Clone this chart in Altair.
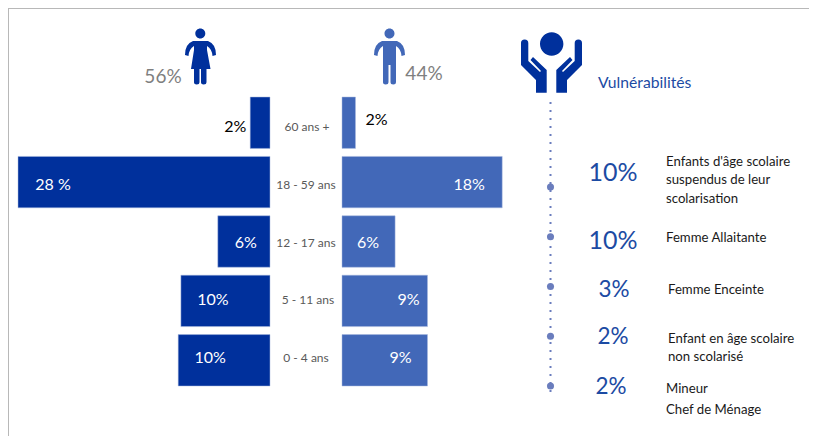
import re
import altair as alt
import pandas as pd

# ---- data ----
ages = ["60 ans +", "18 - 59 ans", "12 - 17 ans", "5 - 11 ans", "0 - 4 ans"]
women = [2.2, 28, 5.8, 9.9, 10.2]
men = [1.5, 17.8, 5.9, 9.5, 9.5]
women_labels = ["2%", "28 %", "6%", "10%", "10%"]
men_labels = ["2%", "18%", "6%", "9%", "9%"]
vuln_share = ["10%", "10%", "3%", "2%", "2%"]
vuln_text = [
    ["Enfants d'âge scolaire", "suspendus de leur", "scolarisation"],
    ["Femme Allaitante"],
    ["Femme Enceinte"],
    ["Enfant en âge scolaire", "non scolarisé"],
    ["Mineur", "Chef de Ménage"],
]
vuln_id = ["a", "b", "c", "d", "e"]

# ---- layout and style ----
W, H = 801, 428
FONT = "Lato"
NAVY, MID, DOT, GREY = "#00309c", "#4268b8", "#6a7dbd", "#7f7f7f"
TITLE_BLUE = "#1c4ba3"
GAP = 4  # half of the central gutter, in percent units
x_scale = alt.Scale(domain=[-298 / 9, (W - 298) / 9], nice=False, zero=False)
age_scale = alt.Scale(domain=ages, range=[89, 378], paddingInner=0.134, paddingOuter=0)
vuln_scale = alt.Scale(domain=vuln_id, range=[179, 378], type="point", padding=0)


def X(px):
    return alt.value(px - 8)


def Y(py):
    return alt.value(py - 8)


def label(text, px, py, size, color, align="center", opacity=1.0):
    return alt.Chart(pd.DataFrame({"k": [0]})).mark_text(
        text=text, font=FONT, fontSize=size, color=color, align=align,
        baseline="middle", opacity=opacity,
    ).encode(x=X(px), y=Y(py))


def circle(cx, cy, r):
    k = 0.5523 * r
    return (
        f"M{cx-r},{cy} C{cx-r},{cy-k} {cx-k},{cy-r} {cx},{cy-r} "
        f"C{cx+k},{cy-r} {cx+r},{cy-k} {cx+r},{cy} "
        f"C{cx+r},{cy+k} {cx+k},{cy+r} {cx},{cy+r} "
        f"C{cx-k},{cy+r} {cx-r},{cy+k} {cx-r},{cy} Z "
    )


def icon(path, cx, cy, span, color):
    """Draw a page-pixel path as a custom symbol centred on (cx, cy)."""
    nums = iter(range(10**6))

    def conv(m):
        v = float(m.group(0))
        i = next(nums)
        c = cx if i % 2 == 0 else cy
        return f"{(v - c) / (span / 2):.4f}"

    shape = re.sub(r"-?\d+\.?\d*", conv, path)
    return alt.Chart(pd.DataFrame({"k": [0]})).mark_point(
        shape=shape, filled=True, size=span * span, color=color, opacity=1, strokeWidth=0
    ).encode(x=X(cx), y=Y(cy))


woman_path = circle(200.3, 33.5, 5) + (
    "M193,41 L208,41 Q216,44 216,55 L212.5,56 Q212,49 207,46 L207,50 L210.5,69 "
    "L206.5,69 L206.5,82 Q206.5,84.5 203.7,84.5 Q201,84.5 201,82 L201,69 L199.5,69 "
    "L199.5,82 Q199.5,84.5 196.7,84.5 Q194,84.5 194,82 L194,69 L191,69 L194,50 L194,46 "
    "Q189,49 188.5,56 L185,55 Q185,44 193,41 Z"
)
man_path = circle(389.5, 33.5, 5) + (
    "M382,41 L397,41 Q405,44 405,55 L401.5,56 Q401,49 396,46 L396,82 Q396,84.5 393.2,84.5 "
    "Q390.5,84.5 390.5,82 L390.5,65 L388.5,65 L388.5,82 Q388.5,84.5 385.7,84.5 "
    "Q383,84.5 383,82 L383,46 Q378,49 377.5,56 L374,55 Q374,44 382,41 Z"
)
hands_path = circle(551.7, 44, 11.7) + (
    "M521,43 Q521,39.5 524.6,39.5 Q528.3,39.5 528.3,43 L528.3,61 L540,72 L541,71 L530.5,60 "
    "L533,57 L546.7,70 L546.7,92.7 L536,92.7 L536,80 L521,65 Z "
    "M582,43 Q582,39.5 578.4,39.5 Q574.7,39.5 574.7,43 L574.7,61 L563,72 L562,71 L572.5,60 "
    "L570,57 L556.3,70 L556.3,92.7 L567,92.7 L567,80 L582,65 Z"
)

# ---- tables ----
bars = pd.DataFrame({"age": ages, "w": women, "m": men, "wl": women_labels, "ml": men_labels})
bars["w0"], bars["w1"] = -GAP, -GAP - bars["w"]
bars["m0"], bars["m1"] = GAP, GAP + bars["m"]
vuln = pd.DataFrame({"id": vuln_id, "share": vuln_share})

X_AX = dict(title=None, axis=None, scale=x_scale)
Y_AGE = alt.Y("age:N", title=None, axis=None, scale=age_scale)

layers = []

# frame
layers.append(alt.Chart(pd.DataFrame({"k": [0]})).mark_rule(color="#b8b8b8", strokeWidth=2).encode(
    x=alt.value(0), y=alt.value(0), y2=alt.value(H)))
layers.append(alt.Chart(pd.DataFrame({"k": [0]})).mark_rule(color="#b8b8b8", strokeWidth=2).encode(
    x=alt.value(0), x2=alt.value(W), y=alt.value(0)))

# pyramid bars
layers.append(alt.Chart(bars).mark_bar(color=NAVY, stroke="#a9b8de", strokeWidth=0.5).encode(
    x=alt.X("w0:Q", **X_AX), x2="w1:Q", y=Y_AGE))
layers.append(alt.Chart(bars).mark_bar(color=MID, stroke="#a9b8de", strokeWidth=0.5).encode(
    x=alt.X("m0:Q", **X_AX), x2="m1:Q", y=Y_AGE))

# bar labels: offsets from the outer bar end, per row
w_dx = [-15, 35, 28, 32, 32]
m_dx = [21, -33, -27, -19, -27]
m_dy = [-6, 1, 1, 1, 1]
w_dy = [1, 1, 1, 1, 1]
for i, a in enumerate(ages):
    row = bars[bars["age"] == a]
    layers.append(alt.Chart(row).mark_text(
        font=FONT, fontSize=16, align="center", baseline="middle", dx=w_dx[i], dy=w_dy[i],
        color="#000000" if i == 0 else "#ffffff",
    ).encode(x=alt.X("w1:Q", **X_AX), y=Y_AGE, text="wl:N"))
    layers.append(alt.Chart(row).mark_text(
        font=FONT, fontSize=16, align="center", baseline="middle", dx=m_dx[i], dy=m_dy[i],
        color="#000000" if i == 0 else "#ffffff",
    ).encode(x=alt.X("m1:Q", **X_AX), y=Y_AGE, text="ml:N"))

# age labels in the gutter
age_dx = [1, 0, 0, 2, 0]
for i, a in enumerate(ages):
    layers.append(alt.Chart(bars[bars["age"] == a]).mark_text(
        font=FONT, fontSize=12, color="#595959", align="center", baseline="middle",
        dx=age_dx[i], dy=1,
    ).encode(x=X(306), y=Y_AGE, text="age:N"))

# icons and totals
layers += [
    icon(woman_path, 200.5, 57, 62, NAVY),
    icon(man_path, 389.5, 57, 62, MID),
    icon(hands_path, 551.5, 63, 62, NAVY),
    label("56%", 163, 77, 19, GREY),
    label("44%", 424, 74, 19, GREY),
    label("Vulnérabilités", 598, 83, 15.7, TITLE_BLUE, align="left"),
]

# vulnerability timeline
layers.append(alt.Chart(pd.DataFrame({"k": [0]})).mark_rule(
    color=DOT, strokeWidth=2, strokeDash=[2, 6]).encode(x=X(550.5), y=Y(102), y2=Y(395)))
layers.append(alt.Chart(vuln).mark_circle(color=DOT, size=50, opacity=1).encode(
    x=X(550.5), y=alt.Y("id:N", title=None, axis=None, scale=vuln_scale)))

share_x = [613, 613, 614, 613, 611]
share_size = [25, 25, 22.5, 22.5, 22.5]
share_dy = [-14, 4, 3, 1, 1]
for i, v in enumerate(vuln_id):
    layers.append(alt.Chart(vuln[vuln["id"] == v]).mark_text(
        font=FONT, fontSize=share_size[i], color=TITLE_BLUE, align="center", baseline="middle",
        dy=share_dy[i],
    ).encode(x=X(share_x[i]), y=alt.Y("id:N", title=None, axis=None, scale=vuln_scale), text="share:N"))

text_x = [666, 666, 668, 668, 666]
text_y = [[162, 180, 199], [238], [290], [339, 357], [389, 410]]
for lines, px, ys in zip(vuln_text, text_x, text_y):
    for line, py in zip(lines, ys):
        layers.append(label(line, px, py, 13.2, "#1a1a1a", align="left"))

chart = (
    alt.layer(*layers)
    .resolve_scale(y="independent", x="shared")
    .properties(
        width=W, height=H, padding=0,
        autosize=alt.AutoSizeParams(type="none", contains="padding"),
        background="white",
    )
    .configure_view(stroke=None)
)

chart.save("out.html", embed_options={"renderer": "svg", "actions": False})
